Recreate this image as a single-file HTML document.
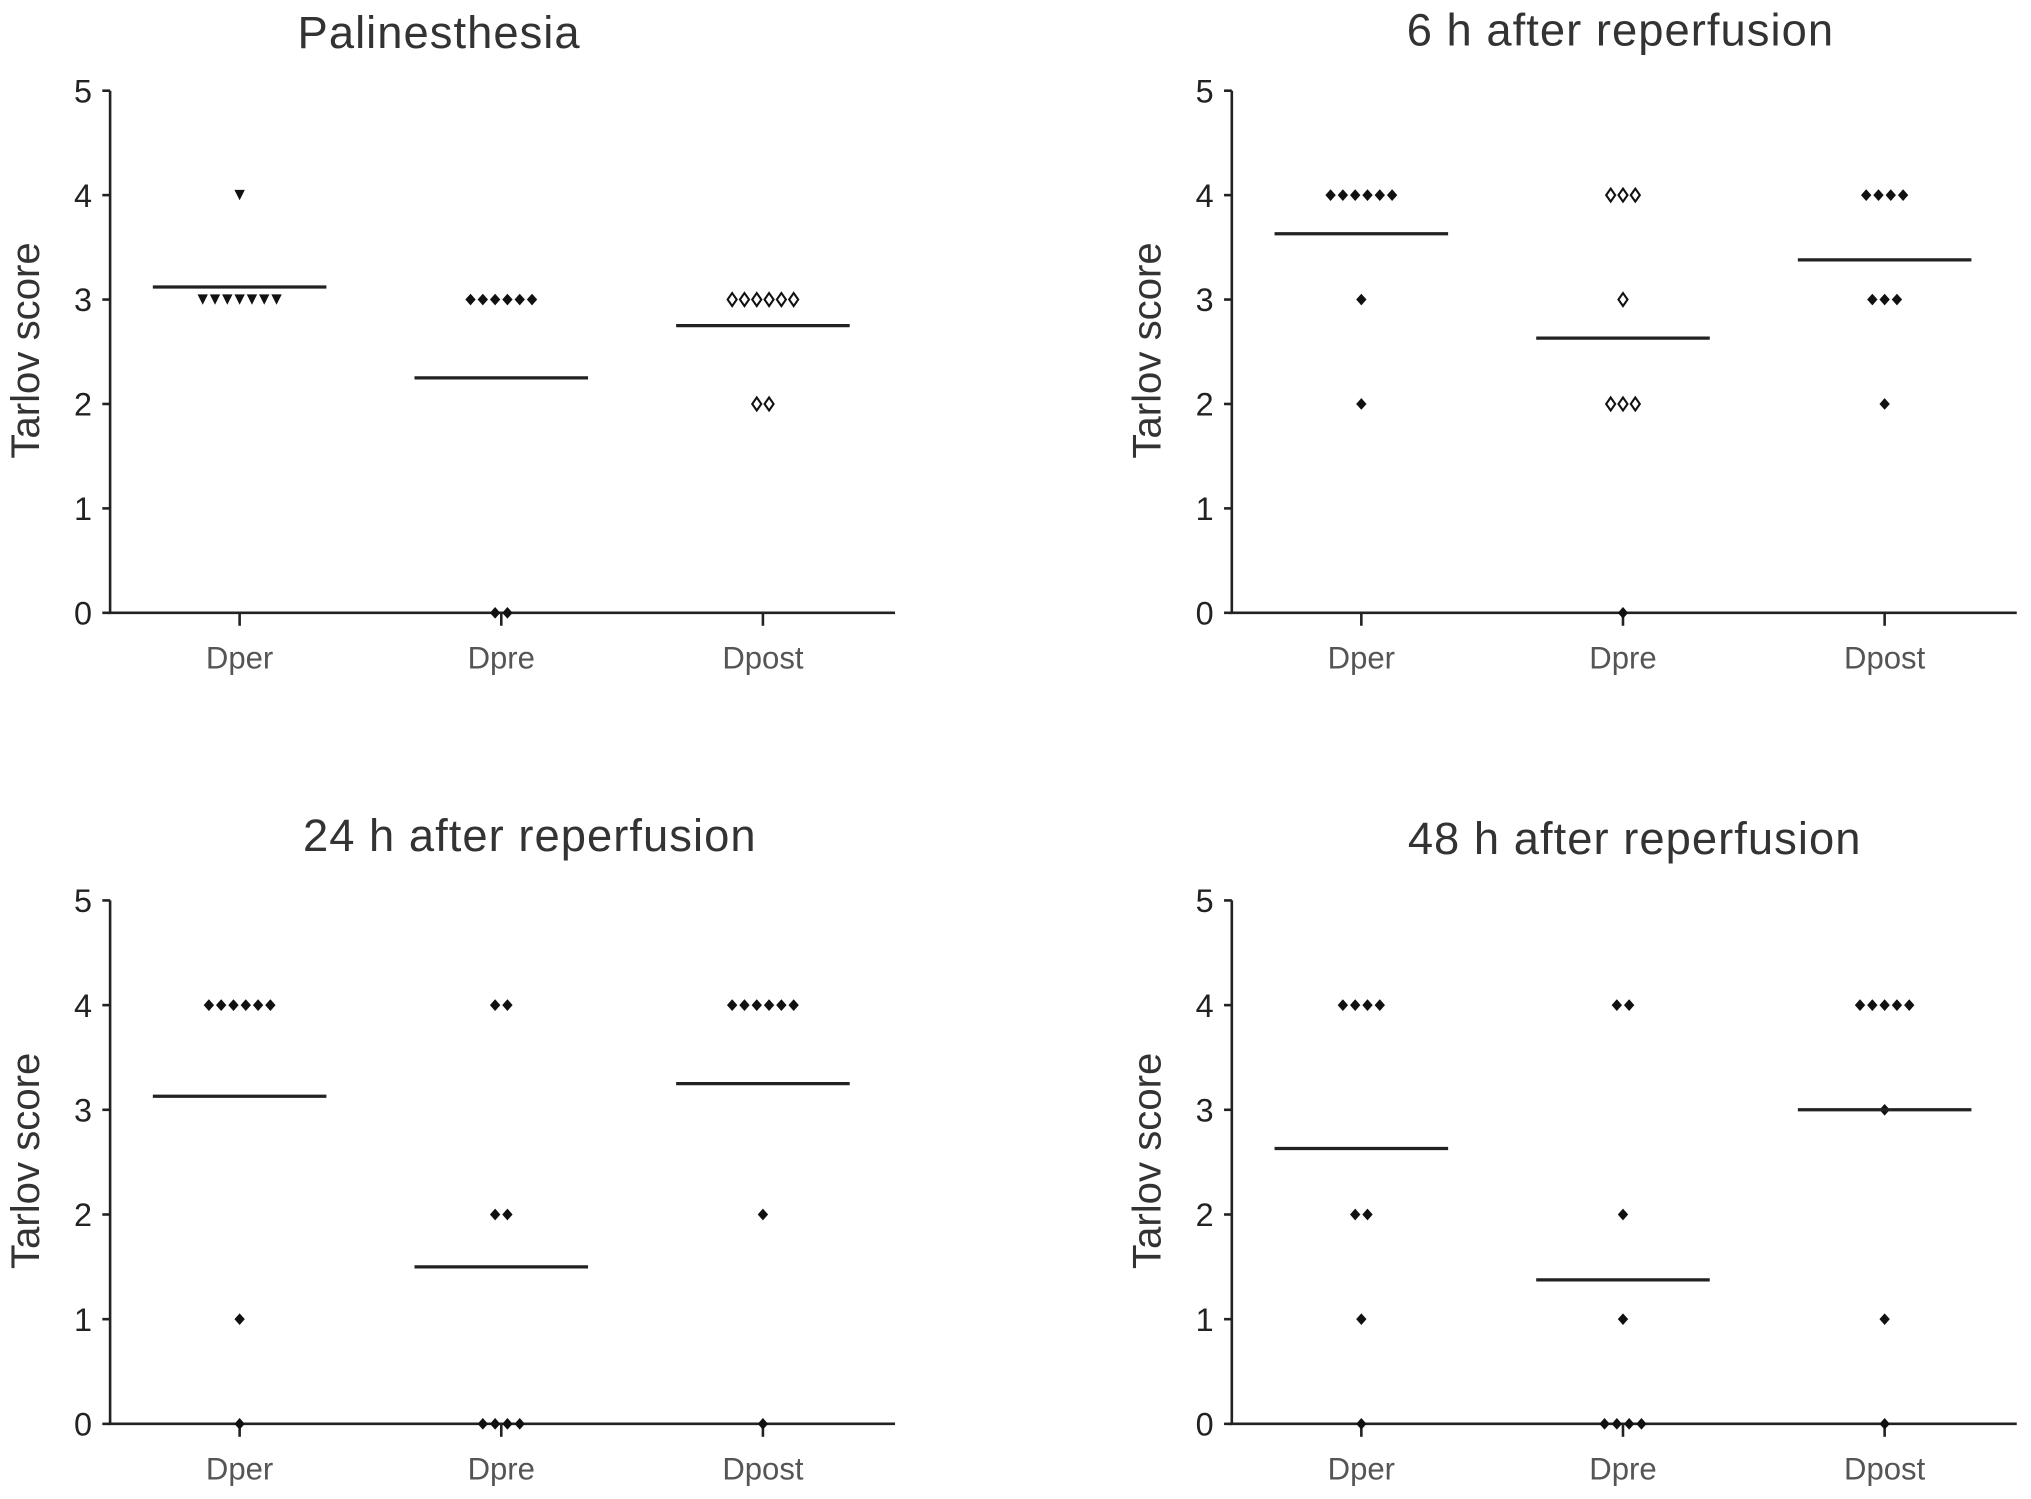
<!DOCTYPE html>
<html><head><meta charset="utf-8"><style>
html,body{margin:0;padding:0;background:#fff;}
svg{display:block;font-family:"Liberation Sans",sans-serif;}
</style></head><body>
<svg id="fig" width="2031" height="1499" viewBox="0 0 1568 1157" preserveAspectRatio="none" xmlns="http://www.w3.org/2000/svg"></svg>
<script>
const categories = ["Dper","Dpre","Dpost"];
const yTicks = [0,1,2,3,4,5];
const titles = ["Palinesthesia","6 h after reperfusion","24 h after reperfusion","48 h after reperfusion"];
const p1Values = [[4,3,3,3,3,3,3,3],[3,3,3,3,3,3,0,0],[3,3,3,3,3,3,2,2]];
const p2Values = [[4,4,4,4,4,4,3,2],[4,4,4,3,2,2,2,0],[4,4,4,4,3,3,3,2]];
const p3Values = [[4,4,4,4,4,4,1,0],[4,4,2,2,0,0,0,0],[4,4,4,4,4,4,2,0]];
const p4Values = [[4,4,4,4,2,2,1,0],[4,4,2,1,0,0,0,0],[4,4,4,4,4,3,1,0]];
const p1Means = [3.12,2.25,2.75];
const p2Means = [3.63,2.63,3.38];
const p3Means = [3.13,1.5,3.25];
const p4Means = [2.63,1.375,3.0];
const allValues=[p1Values,p2Values,p3Values,p4Values];
const allMeans=[p1Means,p2Means,p3Means,p4Means];
const panels=[{x0:85,yTop:70,yBot:473,ty:37},{x0:951,yTop:70,yBot:473,ty:35},{x0:85,yTop:695,yBot:1099,ty:657},{x0:951,yTop:695,yBot:1099,ty:659}];
const titleX=[339,1251,409,1262];
const NS="http://www.w3.org/2000/svg";
const svg=document.getElementById('fig');
function mk(tag,attrs,parent){const e=document.createElementNS(NS,tag);for(const k in attrs)e.setAttribute(k,attrs[k]);(parent||svg).appendChild(e);return e;}
panels.forEach((p,pi)=>{
  const g=mk('g',{});
  
  
  const yS=v=>p.yBot-(p.yBot-p.yTop)*v/5;
  const xS=i=>p.x0+100+202*i;
  const t=mk('text',{x:titleX[pi],y:p.ty,'text-anchor':'middle','font-size':35,'letter-spacing':'0.8',fill:'#333'},g);t.textContent=titles[pi];
  
  
  const ya=mk('line',{x1:p.x0,y1:p.yTop,x2:p.x0,y2:p.yBot,stroke:'#222','stroke-width':2},g);
  
  
  const xa=mk('line',{x1:p.x0-2,y1:p.yBot,x2:p.x0+606,y2:p.yBot,stroke:'#222','stroke-width':2},g);
  
  
  yTicks.forEach(v=>{
    mk('line',{x1:p.x0-6,y1:yS(v),x2:p.x0,y2:yS(v),stroke:'#222','stroke-width':2},g);
    const tl=mk('text',{x:p.x0-14,y:yS(v)+9,'text-anchor':'end','font-size':25,fill:'#222'},g);tl.textContent=v;
    
    
  });
  const yl=mk('text',{transform:`translate(${p.x0-55},${(p.yTop+p.yBot)/2-1}) rotate(-90)`,'text-anchor':'middle','font-size':31,fill:'#333'},g);yl.textContent='Tarlov score';
  
  
  categories.forEach((c,i)=>{
    const cx=xS(i);
    mk('line',{x1:cx,y1:p.yBot,x2:cx,y2:p.yBot+10,stroke:'#222','stroke-width':2},g);
    const cl=mk('text',{x:cx,y:p.yBot+43,'text-anchor':'middle','font-size':24,fill:'#555'},g);cl.textContent=c;
    
    
    const vals=allValues[pi][i];
    const counts={};vals.forEach(v=>counts[v]=(counts[v]||0)+1);
    const seen={};
    vals.forEach(v=>{
      const n=counts[v];const k=seen[v]||0;seen[v]=k+1;
      const px=cx+(k-(n-1)/2)*9.5;const py=yS(v);
      let m;
      if(pi===0&&i===0){m=mk('path',{d:`M${px-4},${py-4}L${px+4},${py-4}L${px},${py+4}Z`,fill:'#111'},g);}
      else if((i===2&&pi===0)||(i===1&&pi===1&&v!==0)){m=mk('path',{d:`M${px},${py-5}L${px+3.5},${py}L${px},${py+5}L${px-3.5},${py}Z`,fill:'#fff',stroke:'#111','stroke-width':1.6},g);}
      else {m=mk('path',{d:`M${px},${py-4.5}L${px+4},${py}L${px},${py+4.5}L${px-4},${py}Z`,fill:'#111'},g);}
      
      
    });
    const my=yS(allMeans[pi][i]);
    const ml=mk('line',{x1:cx-67,y1:my,x2:cx+67,y2:my,stroke:'#222','stroke-width':2.5},g);
    
    
  });
});
</script>
</body></html>
